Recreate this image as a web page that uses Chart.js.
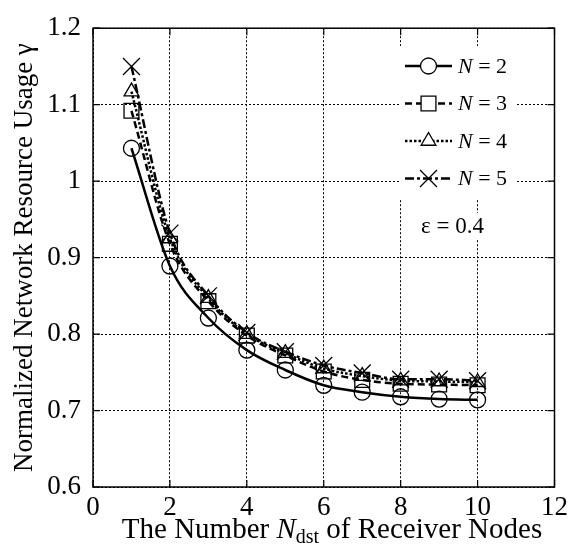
<!DOCTYPE html>
<html>
<head>
<meta charset="utf-8">
<script src="https://cdn.jsdelivr.net/npm/chart.js@4.4.0/dist/chart.umd.min.js"></script>
<style>
  html, body { margin: 0; padding: 0; background: #fff; }
  #wrap { width: 573px; height: 546px; }
</style>
</head>
<body>
<div id="wrap"><canvas id="chart" width="573" height="546"></canvas></div>
<script>
// values
const receiverNodes = [1, 2, 3, 4, 5, 6, 7, 8, 9, 10];
const gammaN2 = [1.043, 0.889, 0.821, 0.779, 0.753, 0.733, 0.724, 0.718, 0.715, 0.714];
const gammaN3 = [1.092, 0.918, 0.843, 0.798, 0.772, 0.751, 0.740, 0.735, 0.734, 0.733];
const gammaN4 = [1.117, 0.925, 0.847, 0.800, 0.775, 0.755, 0.745, 0.739, 0.738, 0.737];
const gammaN5 = [1.150, 0.932, 0.850, 0.802, 0.777, 0.759, 0.749, 0.741, 0.741, 0.739];
const nValues = [2, 3, 4, 5];
const xTicks = [0, 2, 4, 6, 8, 10, 12];
const yTicks = [0.6, 0.7, 0.8, 0.9, 1, 1.1, 1.2];
const epsilon = 0.4;

const serif = "'Liberation Serif', 'DejaVu Serif', serif";

const styles = [
  { dash: [], point: "circle", radius: 8 },
  { dash: [7, 4], point: "rect", radius: 10.5 },
  { dash: [2.5, 2], point: "triangle", radius: 8.5 },
  { dash: [9, 3, 3, 3], point: "crossRot", radius: 12 },
];

const seriesValues = [gammaN2, gammaN3, gammaN4, gammaN5];

const datasets = seriesValues.map((vals, i) => ({
  label: "N = " + nValues[i],
  data: receiverNodes.map((x, j) => ({ x: x, y: vals[j] })),
  borderColor: "#000",
  borderWidth: 2.5,
  borderDash: styles[i].dash,
  pointStyle: styles[i].point,
  pointRadius: styles[i].radius,
  pointBorderWidth: 1.3,
  pointBorderColor: "#000",
  pointBackgroundColor: "rgba(0,0,0,0)",
  cubicInterpolationMode: "monotone",
  fill: false,
}));

function drawRuns(ctx, runs, x, y) {
  runs.forEach((r) => {
    ctx.font = r.font;
    ctx.fillText(r.t, x, y + (r.dy || 0));
    x += ctx.measureText(r.t).width;
  });
}

function runsWidth(ctx, runs) {
  let w = 0;
  runs.forEach((r) => {
    ctx.font = r.font;
    w += ctx.measureText(r.t).width;
  });
  return w;
}

const decor = {
  id: "decor",
  afterDatasetsDraw(chart) {
    const ctx = chart.ctx;
    ctx.save();
    // legend box
    ctx.fillStyle = "#fff";
    ctx.fillRect(399, 46, 118, 154);
    datasets.forEach((ds, i) => {
      const y = 66 + i * 37.5;
      ctx.strokeStyle = "#000";
      ctx.lineWidth = 2.5;
      ctx.setLineDash(styles[i].dash);
      ctx.beginPath();
      ctx.moveTo(405, y);
      ctx.lineTo(452, y);
      ctx.stroke();
      ctx.setLineDash([]);
      ctx.fillStyle = "#fff";
      ctx.lineWidth = 1.3;
      Chart.helpers.drawPoint(ctx, { pointStyle: styles[i].point, radius: styles[i].radius, borderWidth: 1.3, rotation: 0 }, 428.5, y);
      ctx.fillStyle = "#000";
      ctx.textBaseline = "middle";
      ctx.textAlign = "left";
      drawRuns(ctx, [
        { t: "N", font: "italic 22px " + serif },
        { t: ds.label.slice(1), font: "22px " + serif },
      ], 458, y + 1);
    });
    // epsilon note
    ctx.fillStyle = "#fff";
    ctx.fillRect(414, 213, 76, 27);
    ctx.fillStyle = "#000";
    ctx.font = "23px " + serif;
    ctx.textBaseline = "middle";
    ctx.fillText("\u03b5 = " + epsilon, 421, 227);
    ctx.restore();
  },
  afterDraw(chart) {
    const ctx = chart.ctx;
    const a = chart.chartArea;
    const sx = chart.scales.x, sy = chart.scales.y;
    ctx.save();
    ctx.strokeStyle = "#000";
    ctx.lineWidth = 1.5;
    ctx.strokeRect(a.left, a.top, a.right - a.left, a.bottom - a.top);
    ctx.lineWidth = 1.2;
    ctx.beginPath();
    xTicks.forEach((v) => {
      const px = sx.getPixelForValue(v);
      ctx.moveTo(px, a.bottom); ctx.lineTo(px, a.bottom - 7);
      ctx.moveTo(px, a.top); ctx.lineTo(px, a.top + 7);
    });
    yTicks.forEach((v) => {
      const py = sy.getPixelForValue(v);
      ctx.moveTo(a.left, py); ctx.lineTo(a.left + 7, py);
      ctx.moveTo(a.right, py); ctx.lineTo(a.right - 7, py);
    });
    ctx.stroke();

    // axis titles
    ctx.fillStyle = "#000";
    ctx.textBaseline = "alphabetic";
    ctx.textAlign = "left";
    const xt = [
      { t: "The Number ", font: "29px " + serif },
      { t: "N", font: "italic 29px " + serif },
      { t: "dst", font: "20px " + serif, dy: 5 },
      { t: " of Receiver Nodes", font: "29px " + serif },
    ];
    const w = runsWidth(ctx, xt);
    drawRuns(ctx, xt, 332 - w / 2, 538);

    ctx.translate(32, (a.top + a.bottom) / 2);
    ctx.rotate(-Math.PI / 2);
    ctx.textAlign = "center";
    ctx.font = "27px " + serif;
    ctx.fillText("Normalized Network Resource Usage \u03b3", 0, 0);
    ctx.restore();
  },
};

const gridOpts = { color: "#000", lineWidth: 1, drawTicks: false };

new Chart(document.getElementById("chart").getContext("2d"), {
  type: "line",
  data: { datasets: datasets },
  options: {
    responsive: false,
    animation: false,
    devicePixelRatio: 1,
    layout: { padding: { top: 21, right: 14, left: 0, bottom: 0 } },
    plugins: { legend: { display: false }, tooltip: { enabled: false } },
    scales: {
      x: {
        type: "linear",
        min: 0,
        max: 12,
        afterBuildTicks: (s) => { s.ticks = xTicks.map((v) => ({ value: v })); },
        afterFit: (s) => { s.height = 59; },
        grid: gridOpts,
        border: { display: false, dash: [2, 2] },
        ticks: { color: "#000", font: { family: serif, size: 27 }, padding: 5, maxRotation: 0, callback: (v) => String(v) },
      },
      y: {
        type: "linear",
        min: 0.6,
        max: 1.2,
        afterBuildTicks: (s) => { s.ticks = yTicks.map((v) => ({ value: v })); },
        afterFit: (s) => { s.width = 93; },
        grid: gridOpts,
        border: { display: false, dash: [2, 2] },
        ticks: { color: "#000", font: { family: serif, size: 27 }, padding: 12, callback: (v) => String(+v.toFixed(1)) },
      },
    },
  },
  plugins: [decor],
});
</script>
</body>
</html>
